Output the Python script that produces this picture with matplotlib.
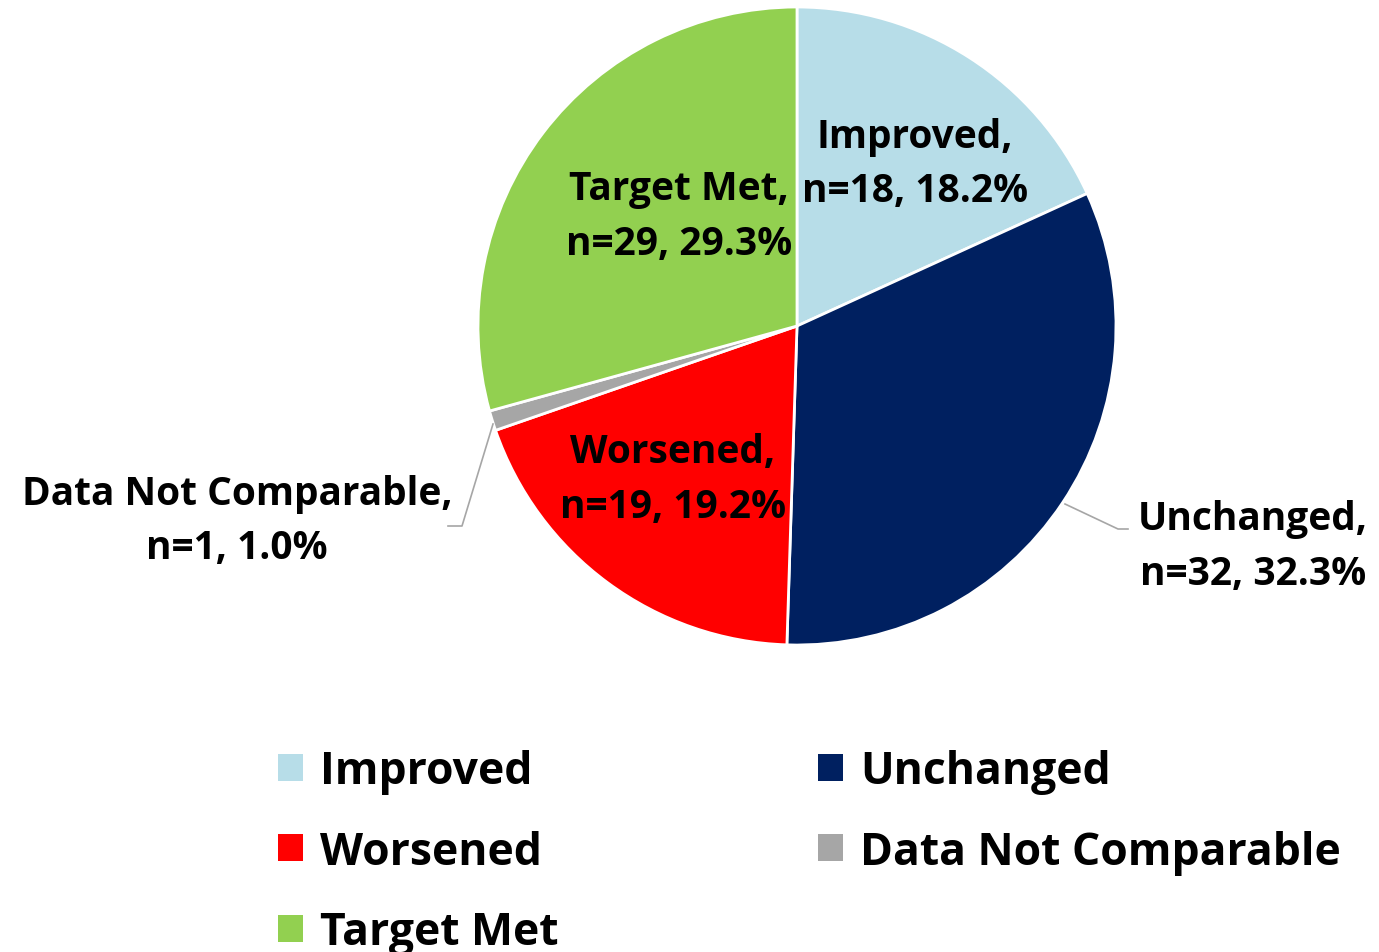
import matplotlib
matplotlib.use("Agg")
import matplotlib.pyplot as plt
from matplotlib.patches import Patch

categories = ["Improved", "Unchanged", "Worsened", "Data Not Comparable", "Target Met"]
counts = [18, 32, 19, 1, 29]
percents = [18.2, 32.3, 19.2, 1.0, 29.3]
colors = ["#B7DDE8", "#002060", "#FF0000", "#A6A6A6", "#92D050"]

plt.rcParams['font.family'] = ['Open Sans', 'DejaVu Sans']

W, H = 1379, 953
fig = plt.figure(figsize=(W / 100, H / 100), dpi=100)
cx, cy, r = 797, 327, 319
ax = fig.add_axes([(cx - r) / W, (H - cy - r) / H, 2 * r / W, 2 * r / H])

wedges, _ = ax.pie(counts, colors=colors, startangle=90, counterclock=False, radius=1,
                   wedgeprops=dict(edgecolor='white', linewidth=2))
ax.set_xlim(-1, 1)
ax.set_ylim(-1, 1)
ax.set_aspect('equal')
ax.axis('off')

label_pos = {
    "Improved": (0.37, 0.51),
    "Unchanged": (1.43, -0.69),
    "Worsened": (-0.39, -0.48),
    "Data Not Comparable": (-1.755, -0.61),
    "Target Met": (-0.37, 0.345),
}
for cat, n, p in zip(categories, counts, percents):
    x, y = label_pos[cat]
    ax.text(x, y, f"{cat},\nn={n}, {p:.1f}%", ha='center', va='center', fontsize=28,
            fontweight='bold', color='black', linespacing=1.52, clip_on=False)

def px(xp, yp):
    return ((xp - cx) / r, (cy - yp) / r)

# leader lines
pts = [px(493, 425), px(462, 527), px(448, 527)]
ax.plot([p[0] for p in pts], [p[1] for p in pts], color='#A6A6A6', lw=1.2, clip_on=False)
pts = [px(1065, 505), px(1118, 530), px(1128, 530)]
ax.plot([p[0] for p in pts], [p[1] for p in pts], color='#A6A6A6', lw=1.2, clip_on=False)

order = [0, 2, 4, 1, 3]
handles = [Patch(facecolor=colors[i], edgecolor='none') for i in order]
labels = [categories[i] for i in order]
leg = fig.legend(handles, labels, ncol=2, loc='upper left',
                 bbox_to_anchor=(278 / W, 1 - 750 / H), frameon=False, borderpad=0,
                 borderaxespad=0,
                 prop=dict(size=32, weight='bold'), handlelength=0.56, handleheight=0.56,
                 handletextpad=0.38, columnspacing=5.85, labelspacing=0.8)

fig.savefig("out.png", dpi=100)
